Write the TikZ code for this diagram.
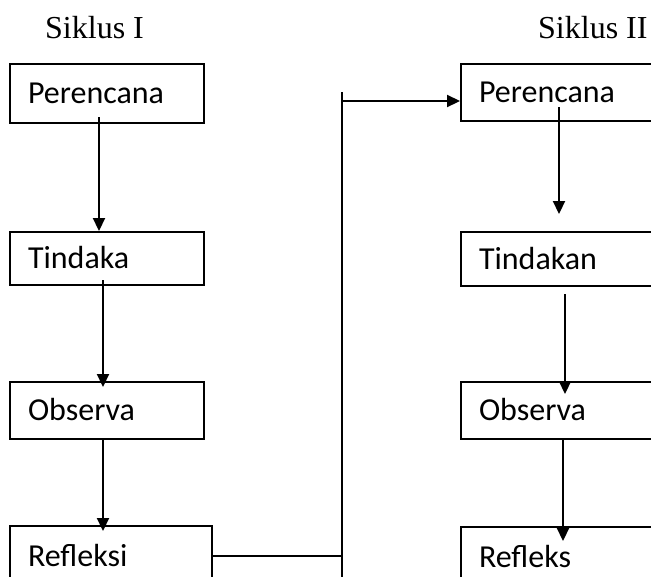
\documentclass[tikz,border=0pt]{standalone}
\usepackage{fontspec}
\setmainfont{Carlito}
\newfontfamily\headfont{Liberation Serif}
\usetikzlibrary{positioning,arrows.meta}
\tikzstyle{stage} = [rectangle, draw, line width=2pt, text width=158pt,
    inner xsep=18pt, align=left, text height=20pt, text depth=0pt,
    minimum height=57pt, font=\fontsize{32}{38}\selectfont]
\tikzstyle{stagewide} = [stage, text width=166pt]
\tikzstyle{cycle} = [inner sep=0pt, anchor=base west, font=\headfont\fontsize{32}{38}\selectfont]
\tikzstyle{line} = [draw, line width=2.2pt, -{Triangle[width=12pt,length=13pt]}]
\tikzstyle{plain} = [draw, line width=2.2pt]

\begin{document}
\begin{tikzpicture}[x=1pt, y=1pt]
    \useasboundingbox (0,0) rectangle (651,-576);
    % Headings
    \node [cycle] (head1) at (45,-38) {Siklus I};
    \node [cycle] (head2) at (538,-38) {Siklus II};
    % Place nodes, cycle I
    \node [stage, minimum height=59pt] (plan1) at (107,-93.5) {Perencana};
    \node [stage, below of=plan1, node distance=165pt, minimum height=53pt] (act1) {Tindaka};
    \node [stage, below of=act1, node distance=152pt] (obs1) {Observa};
    \node [stagewide, below of=obs1, node distance=145.5pt, xshift=4pt, minimum height=60pt] (ref1) {Refleksi};
    % Place nodes, cycle II
    \node [stage, right of=plan1, node distance=451pt, yshift=1pt] (plan2) {Perencana};
    \node [stage, below of=plan2, node distance=166.5pt, minimum height=54pt] (act2) {Tindakan};
    \node [stage, below of=act2, node distance=151.5pt] (obs2) {Observa};
    \node [stage, below of=obs2, node distance=146.5pt, minimum height=60pt] (ref2) {Refleks};
    % Link between the cycles
    \coordinate (linktop) at (342,-92);
    \coordinate (linkbot) at (342,-580);
    % Draw edges
    \path [line] ([xshift=-8pt,yshift=7pt]plan1.south) -- ([xshift=-8pt]act1.north);
    \path [line] ([xshift=-4pt,yshift=6pt]act1.south) -- ([xshift=-4pt,yshift=-6pt]obs1.north);
    \path [line] ([xshift=-4pt]obs1.south) -- ([xshift=-8pt,yshift=-6pt]ref1.north);
    \path [plain] (ref1.east) -- (ref1.east -| linktop);
    \path [plain] (linkbot) -- (linktop);
    \path [line] ([yshift=-8.5pt]plan2.west -| linktop) -- ([yshift=-8.5pt]plan2.west);
    \path [line] ([xshift=1pt,yshift=15pt]plan2.south) -- ([xshift=1pt,yshift=17pt]act2.north);
    \path [line] ([xshift=7pt,yshift=-7pt]act2.south) -- ([xshift=7pt,yshift=-13pt]obs2.north);
    \path [line] ([xshift=5pt]obs2.south) -- ([xshift=5pt,yshift=-15pt]ref2.north);
\end{tikzpicture}
\end{document}
